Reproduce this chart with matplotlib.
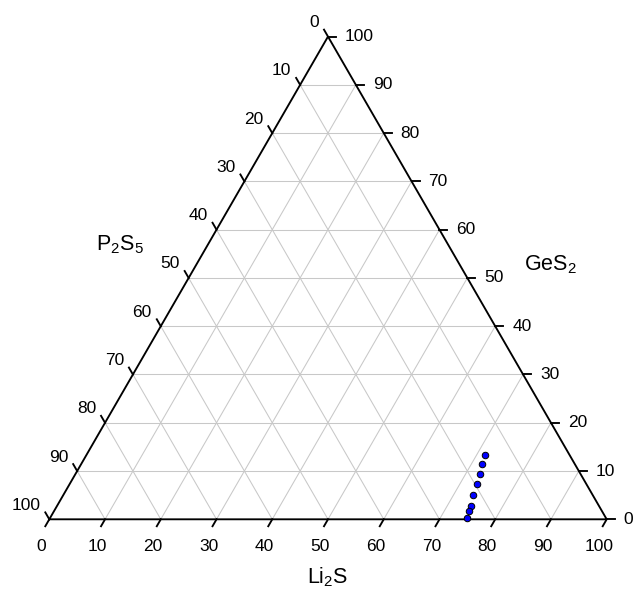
import numpy as np
import matplotlib.pyplot as plt

plt.rcParams['font.family'] = ['Liberation Sans', 'DejaVu Sans']
plt.rcParams['mathtext.fontset'] = 'custom'
plt.rcParams['mathtext.rm'] = 'Liberation Sans'
plt.rcParams['mathtext.it'] = 'Liberation Sans:italic'

# compositions (mol %)
li2s = [71.5, 72.0, 72.6, 73.0, 73.6, 74.2, 74.5, 74.9]
ges2 = [13.3, 11.4, 9.4, 7.3, 5.0, 2.75, 1.7, 0.2]
p2s5 = [15.2, 16.6, 18.0, 19.7, 21.4, 23.05, 23.8, 24.9]

ticks = [0, 10, 20, 30, 40, 50, 60, 70, 80, 90, 100]
h = np.sqrt(3) / 2


def to_xy(a, c):
    # a = Li2S fraction, c = GeS2 fraction
    a = np.asarray(a) / 100.0
    c = np.asarray(c) / 100.0
    return a + c / 2, c * h


fig = plt.figure(figsize=(6.34, 5.94), dpi=100)
ax = fig.add_axes([0, 0, 1, 1])
scale = 557.4
ax.set_xlim(-49.3 / scale, (634 - 49.3) / scale)
ax.set_ylim(-74.7 / scale, (594 - 74.7) / scale)
ax.axis('off')

# grid
for t in ticks[1:-1]:
    f = t / 100
    # constant Li2S
    ax.plot([f, f + (1 - f) / 2], [0, (1 - f) * h], color='#c8c8c8', lw=0.75, zorder=1)
    # constant GeS2
    ax.plot([f / 2, 1 - f / 2], [f * h, f * h], color='#c8c8c8', lw=0.75, zorder=1)
    # constant P2S5
    ax.plot([1 - f, (1 - f) / 2], [0, (1 - f) * h], color='#c8c8c8', lw=0.75, zorder=1)

ax.plot([0, 1, 0.5, 0], [0, 0, h, 0], color='black', lw=1.35, zorder=2, solid_joinstyle='miter')

tl = 8 / scale
off = 1 / scale
for t in ticks:
    f = t / 100
    # bottom axis (Li2S)
    ax.plot([f, f - 0.5 * tl], [0, -h * tl], color='black', lw=1.35)
    ax.text(f - 8 * off, -27 * off, str(t), ha='center', va='center', fontsize=12.5)
    # right axis (GeS2)
    x, y = 1 - f / 2, f * h
    ax.plot([x, x + tl], [y, y], color='black', lw=1.35)
    ax.text(x + 17 * off, y, str(t), ha='left', va='center', fontsize=12.5)
    # left axis (P2S5)
    x, y = 0.5 * (1 - f), h * (1 - f)
    ax.plot([x, x - 0.5 * tl], [y, y + h * tl], color='black', lw=1.35)
    ax.text(x - 9 * off, y + 14 * off, str(t), ha='right', va='center', fontsize=12.5)

ax.text(0.5, -58 * off, r'$\mathrm{Li_2S}$', ha='center', va='center', fontsize=15.5)
ax.text(120 / scale - 49.3 / scale, (519.3 - 245) / scale, r'$\mathrm{P_2S_5}$', ha='center', va='center', fontsize=15.5)
ax.text(550 / scale - 49.3 / scale, (519.3 - 265) / scale, r'$\mathrm{GeS_2}$', ha='center', va='center', fontsize=15.5)

px, py = to_xy(li2s, ges2)
ax.scatter(px, py, s=22, color='#0000ff', edgecolors='black', linewidths=0.7, zorder=5, clip_on=False)

fig.savefig('out.png', dpi=100)
